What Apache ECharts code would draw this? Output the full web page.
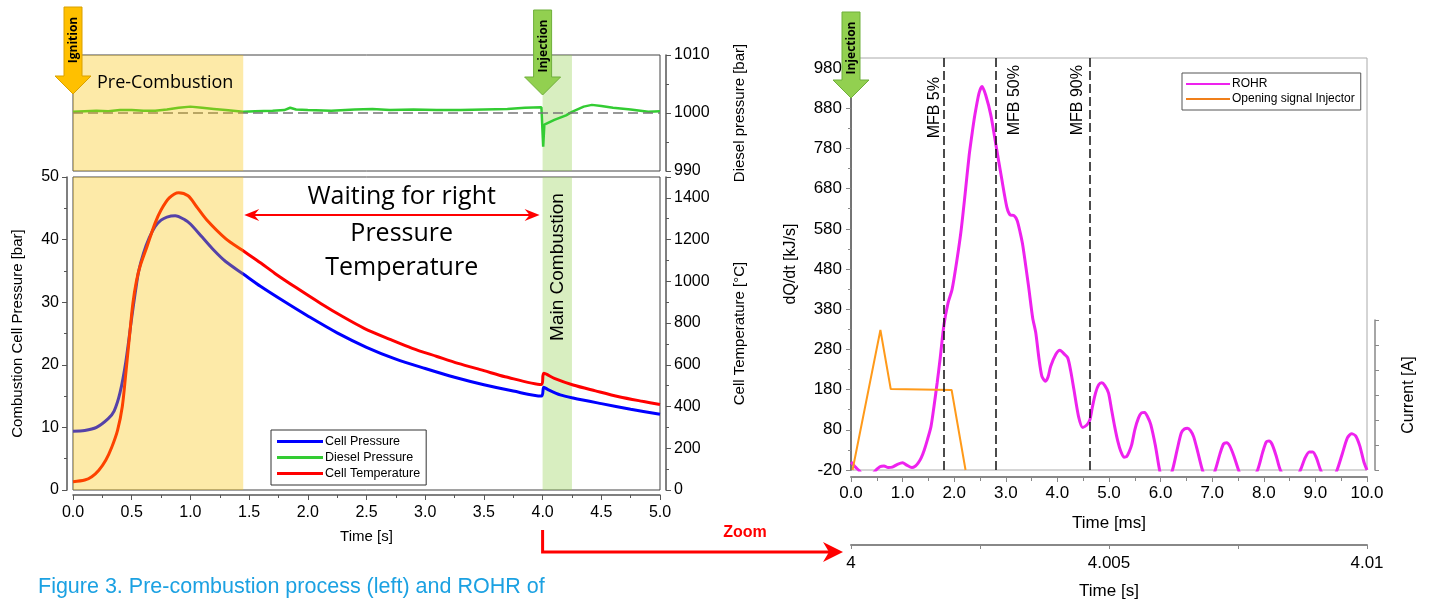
<!DOCTYPE html>
<html>
<head>
<meta charset="utf-8">
<script src="https://cdn.jsdelivr.net/npm/echarts@6/dist/echarts.min.js"></script>
<style>
  html, body { margin: 0; padding: 0; background: #fff; }
  #main { width: 1429px; height: 603px; }
</style>
</head>
<body>
<div id="main"></div>
<script>
// left chart: time [s]
var pTime  = [0, 0.1, 0.2, 0.3, 0.35, 0.4, 0.45, 0.5, 0.53, 0.56, 0.6, 0.65, 0.7, 0.75, 0.8, 0.87, 0.95, 1.0, 1.1, 1.2, 1.3, 1.45, 1.6, 1.8, 2.0, 2.25, 2.5, 2.75, 3.0, 3.25, 3.5, 3.75, 3.99, 4.01, 4.05, 4.15, 4.26, 4.5, 4.75, 5.0];
var cellPressure = [9.4, 9.5, 10.0, 11.4, 12.6, 15.5, 20.5, 27.5, 31.5, 35, 37.8, 40.3, 42.1, 43.1, 43.6, 43.8, 43.2, 42.5, 40.4, 38.3, 36.5, 34.5, 32.5, 30.1, 27.8, 25.1, 22.8, 20.9, 19.4, 18.0, 16.8, 15.8, 15.0, 16.4, 16.0, 15.2, 14.7, 13.8, 12.9, 12.1];

var tTime = [0, 0.1, 0.16, 0.22, 0.28, 0.33, 0.38, 0.42, 0.45, 0.48, 0.51, 0.54, 0.57, 0.63, 0.7, 0.75, 0.82, 0.9, 0.98, 1.05, 1.14, 1.3, 1.44, 1.6, 1.72, 1.9, 2.11, 2.3, 2.48, 2.7, 2.89, 3.1, 3.28, 3.5, 3.68, 3.99, 4.01, 4.1, 4.26, 4.45, 4.65, 4.85, 5.0];
var cellTemp = [40, 48, 64, 95, 144, 205, 287, 400, 560, 730, 894, 1000, 1070, 1166, 1280, 1342, 1400, 1425, 1410, 1360, 1294, 1205, 1150, 1088, 1038, 970, 894, 830, 775, 722, 679, 640, 607, 572, 543, 505, 559, 535, 503, 475, 447, 425, 410];

var dTime = [0, 0.1, 0.2, 0.3, 0.4, 0.5, 0.6, 0.7, 0.8, 0.9, 1.0, 1.1, 1.2, 1.3, 1.45, 1.55, 1.7, 1.8, 1.85, 1.9, 2.0, 2.2, 2.4, 2.55, 2.7, 2.9, 3.1, 3.3, 3.5, 3.7, 3.85, 3.99, 4.0, 4.005, 4.015, 4.03, 4.1, 4.2, 4.25, 4.35, 4.42, 4.5, 4.6, 4.75, 4.9, 5.0];
var dieselPressure = [1000.2, 1000.3, 1000.4, 1000.3, 1000.5, 1000.5, 1000.4, 1000.4, 1000.6, 1000.9, 1001.1, 1000.9, 1000.7, 1000.5, 1000.2, 1000.3, 1000.4, 1000.5, 1000.9, 1000.6, 1000.5, 1000.4, 1000.6, 1000.7, 1000.5, 1000.6, 1000.5, 1000.5, 1000.6, 1000.7, 1000.9, 1001.0, 1000.8, 994.2, 998.0, 998.3, 998.8, 999.6, 1000.2, 1001.1, 1001.4, 1001.2, 1000.9, 1000.6, 1000.2, 1000.3];

var preCombustion = [0, 1.45];
var mainCombustion = [4.0, 4.25];

// right chart: time [ms]
var rTime = [0, 0.08, 0.16, 0.25, 0.35, 0.45, 0.56, 0.64, 0.72, 0.8, 0.9, 1.0, 1.08, 1.18, 1.25, 1.3, 1.36, 1.42, 1.48, 1.55, 1.61, 1.67, 1.73, 1.8, 1.88, 1.96, 2.05, 2.13, 2.21, 2.29, 2.35, 2.4, 2.48, 2.54, 2.61, 2.71, 2.81, 2.92, 3.02, 3.08, 3.16, 3.22, 3.28, 3.33, 3.44, 3.52, 3.58, 3.64, 3.7, 3.77, 3.82, 3.87, 3.97, 4.05, 4.12, 4.2, 4.26, 4.32, 4.41, 4.49, 4.57, 4.63, 4.68, 4.74, 4.8, 4.86, 4.92, 4.99, 5.05, 5.11, 5.17, 5.23, 5.29, 5.34, 5.39, 5.44, 5.5, 5.57, 5.63, 5.69, 5.75, 5.81, 5.9, 5.98, 6.05, 6.12, 6.23, 6.32, 6.4, 6.46, 6.52, 6.58, 6.64, 6.72, 6.81, 6.9, 6.98, 7.06, 7.15, 7.22, 7.28, 7.34, 7.42, 7.51, 7.6, 7.75, 7.88, 7.98, 8.05, 8.1, 8.16, 8.24, 8.32, 8.45, 8.6, 8.71, 8.8, 8.88, 8.95, 9.02, 9.1, 9.2, 9.32, 9.42, 9.52, 9.62, 9.7, 9.78, 9.86, 9.94, 10.0];
var rohr = [0, -12, -22, -38, -42, -25, -12, -10, -14, -13, -6, -2, -8, -14, -10, -3, 10, 30, 55, 88, 140, 197, 260, 340, 395, 430, 500, 572, 665, 763, 820, 863, 917, 934, 913, 863, 788, 705, 634, 615, 613, 601, 570, 538, 438, 359, 322, 260, 213, 201, 212, 238, 268, 278, 270, 259, 225, 180, 113, 86, 92, 105, 138, 172, 192, 197, 190, 172, 130, 88, 52, 26, 12, 13, 25, 43, 80, 109, 122, 123, 112, 93, 40, -20, -50, -55, -20, 30, 72, 82, 84, 78, 63, 25, -20, -45, -45, -20, 20, 45, 48, 40, 15, -20, -45, -45, -20, 25, 50, 52, 44, 15, -20, -45, -45, -20, 10, 25, 25, 10, -20, -45, -45, -20, 20, 60, 70, 65, 40, 0, -20];

var injTime = [0.03, 0.57, 0.77, 1.95, 2.22];
var injCurrent = [0, 5.6, 3.24, 3.2, 0];

var mfbTime = [1.8, 2.81, 4.63];
var mfbNames = ['MFB 5%', 'MFB 50%', 'MFB 90%'];

var zoomTicks = [4, 4.005, 4.01];

function pairs(xs, ys) {
    return xs.map(function (x, i) { return [x, ys[i]]; });
}

var FONT = "'Liberation Sans', Arial, sans-serif";
var axisGray = '#555';

function plain(v) { return String(v); }

function tickAxis(extra) {
    var base = {
        axisLine: { show: true, onZero: false, lineStyle: { color: axisGray, width: 1.5 } },
        axisTick: { show: true, length: 5, lineStyle: { color: axisGray } },
        minorTick: { show: true, splitNumber: 2, length: 3, lineStyle: { color: axisGray } },
        axisLabel: { color: '#000', fontFamily: FONT, fontSize: 16, formatter: plain },
        splitLine: { show: false },
        nameTextStyle: { color: '#000', fontFamily: FONT, fontSize: 15 }
    };
    return Object.assign(base, extra);
}

// label placement of MFB lines (left / right of the dashed line)
var mfbSide = ['insideEndTop', 'insideEndBottom', 'insideEndTop'];
var mfbGap = [[19, 1], [7, 11], [7, 4]];

var mfbLines = mfbTime.map(function (t, i) {
    return {
        xAxis: t,
        label: {
            show: true,
            formatter: mfbNames[i],
            position: mfbSide[i],
            distance: mfbGap[i],
            color: '#000',
            fontFamily: FONT,
            fontSize: 16
        }
    };
});

var chart = echarts.init(document.getElementById('main'));

var option = {
    animation: false,
    backgroundColor: '#fff',
    grid: [
        { left: 73, top: 55, width: 587, height: 116, show: true, borderColor: '#444', borderWidth: 1, backgroundColor: 'transparent' },
        { left: 73, top: 177, width: 587, height: 313, show: true, borderColor: '#444', borderWidth: 1, backgroundColor: 'transparent' },
        { left: 851, top: 58, width: 516, height: 412, show: true, borderColor: '#aaa', borderWidth: 1, backgroundColor: 'transparent' },
        { left: 851, top: 320, width: 516, height: 150 },
        { left: 851, top: 544, width: 516, height: 1 }
    ],
    legend: [
        {
            data: ['Cell Pressure', 'Diesel Pressure', 'Cell Temperature'],
            left: 271, top: 430, orient: 'vertical',
            icon: 'rect', itemWidth: 46, itemHeight: 3, itemGap: 3,
            padding: [5, 6, 5, 6],
            borderColor: '#333', borderWidth: 1,
            textStyle: { color: '#000', fontFamily: FONT, fontSize: 12.5, padding: [0, 0, 0, -3] }
        },
        {
            data: ['ROHR', 'Opening signal Injector'],
            left: 1182, top: 73, orient: 'vertical',
            icon: 'rect', itemWidth: 44, itemHeight: 2, itemGap: 3,
            padding: [5, 6, 5, 4],
            borderColor: '#555', borderWidth: 1,
            textStyle: { color: '#000', fontFamily: FONT, fontSize: 12, padding: [0, 0, 0, -3] }
        }
    ],
    xAxis: [
        { gridIndex: 0, type: 'value', min: 0, max: 5, show: false },
        tickAxis({
            gridIndex: 1, type: 'value', min: 0, max: 5, interval: 0.5, offset: 5,
            name: 'Time [s]', nameLocation: 'middle', nameGap: 34,
            axisLabel: { color: '#000', fontFamily: FONT, fontSize: 16, margin: 10, formatter: function (v) { return v.toFixed(1); } }
        }),
        tickAxis({
            gridIndex: 2, type: 'value', min: 0, max: 10, interval: 1, offset: 7,
            name: 'Time [ms]', nameLocation: 'middle', nameGap: 38,
            axisLine: { show: true, onZero: false, lineStyle: { color: '#888', width: 2 } },
            axisTick: { show: true, length: 5, lineStyle: { color: '#888' } },
            minorTick: { show: true, splitNumber: 2, length: 4, lineStyle: { color: '#888' } },
            axisLabel: { color: '#000', fontFamily: FONT, fontSize: 17, margin: 8, formatter: function (v) { return v.toFixed(1); } },
            nameTextStyle: { color: '#000', fontFamily: FONT, fontSize: 17 }
        }),
        { gridIndex: 3, type: 'value', min: 0, max: 10, show: false },
        tickAxis({
            gridIndex: 4, type: 'value', min: 4, max: 4.01, interval: 0.0025,
            name: 'Time [s]', nameLocation: 'middle', nameGap: 38,
            axisLine: { show: true, onZero: false, lineStyle: { color: '#888', width: 2 } },
            axisTick: { show: true, length: 4, lineStyle: { color: '#888' } },
            minorTick: { show: false },
            axisLabel: {
                color: '#000', fontFamily: FONT, fontSize: 17, margin: 10,
                formatter: function (v) {
                    var hit = zoomTicks.filter(function (z) { return Math.abs(z - v) < 1e-7; });
                    return hit.length ? String(hit[0]) : '';
                }
            },
            nameTextStyle: { color: '#000', fontFamily: FONT, fontSize: 17 }
        })
    ],
    yAxis: [
        tickAxis({
            gridIndex: 0, type: 'value', position: 'right', min: 990, max: 1010, interval: 10, offset: 6,
            name: 'Diesel pressure [bar]', nameLocation: 'middle', nameGap: 66, nameRotate: 90
        }),
        tickAxis({
            gridIndex: 1, type: 'value', position: 'left', min: 0, max: 50, interval: 10, offset: 6,
            name: 'Combustion Cell Pressure [bar]', nameLocation: 'middle', nameGap: 42, nameRotate: 90
        }),
        tickAxis({
            gridIndex: 1, type: 'value', position: 'right', min: 0, max: 1500, interval: 200, offset: 6,
            name: 'Cell Temperature [°C]', nameLocation: 'middle', nameGap: 66, nameRotate: 90,
            axisLabel: { color: '#000', fontFamily: FONT, fontSize: 16, showMaxLabel: false, formatter: plain }
        }),
        tickAxis({
            gridIndex: 2, type: 'value', min: -20, max: 1005, interval: 100,
            name: 'dQ/dt [kJ/s]', nameLocation: 'middle', nameGap: 52, nameRotate: 90,
            axisLine: { show: true, onZero: false, lineStyle: { color: '#555', width: 1.5 } },
            axisTick: { show: true, length: 5, lineStyle: { color: '#888' } },
            minorTick: { show: true, splitNumber: 2, length: 3, lineStyle: { color: '#888' } },
            axisLabel: { color: '#000', fontFamily: FONT, fontSize: 17, margin: 9, showMaxLabel: false, formatter: plain },
            nameTextStyle: { color: '#000', fontFamily: FONT, fontSize: 16 }
        }),
        tickAxis({
            gridIndex: 3, type: 'value', position: 'right', min: 0, max: 6, interval: 1, offset: 8,
            name: 'Current [A]', nameLocation: 'middle', nameGap: 26, nameRotate: 90,
            axisLine: { show: true, onZero: false, lineStyle: { color: '#888', width: 1.5 } },
            axisTick: { show: true, length: 4, lineStyle: { color: '#888' } },
            minorTick: { show: false },
            axisLabel: { show: false },
            nameTextStyle: { color: '#000', fontFamily: FONT, fontSize: 16 }
        }),
        { gridIndex: 4, type: 'value', show: false }
    ],
    series: [
        {
            name: 'bandTop', type: 'line', xAxisIndex: 0, yAxisIndex: 0, data: [], silent: true,
            markArea: { silent: true, z: 1, itemStyle: { color: 'rgba(146,208,80,0.36)' },
                data: [[{ xAxis: mainCombustion[0] }, { xAxis: mainCombustion[1] }]] }
        },
        {
            name: 'Diesel Pressure', type: 'line', xAxisIndex: 0, yAxisIndex: 0,
            data: pairs(dTime, dieselPressure), symbol: 'none',
            lineStyle: { color: '#33CC33', width: 2.5 }, itemStyle: { color: '#33CC33' },
            markLine: { silent: true, symbol: 'none', label: { show: false },
                lineStyle: { color: '#777', type: [10, 5], width: 1.5 },
                data: [{ yAxis: 1000 }] },
            markArea: { silent: true, z: 10, itemStyle: { color: 'rgba(250,192,0,0.34)' },
                data: [[{ xAxis: preCombustion[0] }, { xAxis: preCombustion[1] }]] }
        },
        {
            name: 'Cell Pressure', type: 'line', xAxisIndex: 1, yAxisIndex: 1,
            data: pairs(pTime, cellPressure), symbol: 'none', smooth: 0.3,
            lineStyle: { color: '#0000FF', width: 3 }, itemStyle: { color: '#0000FF' },
            markArea: { silent: true, z: 1, itemStyle: { color: 'rgba(146,208,80,0.36)' },
                data: [[{ xAxis: mainCombustion[0] }, { xAxis: mainCombustion[1] }]] }
        },
        {
            name: 'Cell Temperature', type: 'line', xAxisIndex: 1, yAxisIndex: 2,
            data: pairs(tTime, cellTemp), symbol: 'none', smooth: 0.3,
            lineStyle: { color: '#FF0000', width: 3 }, itemStyle: { color: '#FF0000' },
            markArea: { silent: true, z: 10, itemStyle: { color: 'rgba(250,192,0,0.34)' },
                data: [[{ xAxis: preCombustion[0] }, { xAxis: preCombustion[1] }]] }
        },
        {
            name: 'ROHR', type: 'line', xAxisIndex: 2, yAxisIndex: 3,
            data: pairs(rTime, rohr), symbol: 'none', smooth: 0.25,
            lineStyle: { color: '#EE22EE', width: 3 }, itemStyle: { color: '#EE22EE' },
            markLine: { silent: true, symbol: 'none',
                lineStyle: { color: '#111', type: [9, 4], width: 1.5 },
                data: mfbLines }
        },
        {
            name: 'Opening signal Injector', type: 'line', xAxisIndex: 3, yAxisIndex: 4,
            data: pairs(injTime, injCurrent), symbol: 'none',
            lineStyle: { color: '#FF9A1A', width: 2 }, itemStyle: { color: '#F07F1A' }
        }
    ]
};

chart.setOption(option);

// annotations placed from the axes
function xpx(axis, v) { return chart.convertToPixel({ xAxisIndex: axis }, v); }

function downArrow(cx, tipY, top, fill, stroke, label, labelY) {
    return [
        {
            type: 'polygon', z: 100,
            shape: { points: [[cx - 9, top], [cx + 9, top], [cx + 9, tipY - 18], [cx + 18, tipY - 18], [cx, tipY], [cx - 18, tipY - 18], [cx - 9, tipY - 18]] },
            style: { fill: fill, stroke: stroke, lineWidth: 1 }
        },
        {
            type: 'text', z: 101, x: cx + 1, y: labelY, rotation: Math.PI / 2,
            style: { text: label, font: "bold 12px 'Open Sans', sans-serif", fill: '#000', align: 'center', verticalAlign: 'middle' }
        }
    ];
}

var x0 = xpx(1, 0), x4 = xpx(1, 4.0), xMid = xpx(1, 2.8), xMain = xpx(1, 4.13);
var xPre = xpx(1, preCombustion[1]);
var r0 = xpx(2, 0);

var graphics = []
    .concat(downArrow(x0, 94, 7, '#FFC000', '#D9A000', 'Ignition', 40))
    .concat(downArrow(x4, 95, 10, '#92D050', '#6FAF3A', 'Injection', 46))
    .concat(downArrow(r0, 98, 12, '#92D050', '#6FAF3A', 'Injection', 48));

var bigFont = "25px 'Open Sans', sans-serif";
graphics.push(
    { type: 'text', z: 101, x: 97, y: 83, style: { text: 'Pre-Combustion', font: "18px 'Open Sans', sans-serif", fill: '#000', verticalAlign: 'middle' } },
    { type: 'text', z: 101, x: xMid, y: 197, style: { text: 'Waiting for right', font: bigFont, fill: '#000', align: 'center', verticalAlign: 'middle' } },
    { type: 'text', z: 101, x: xMid, y: 234, style: { text: 'Pressure', font: bigFont, fill: '#000', align: 'center', verticalAlign: 'middle' } },
    { type: 'text', z: 101, x: xMid, y: 268, style: { text: 'Temperature', font: bigFont, fill: '#000', align: 'center', verticalAlign: 'middle' } },
    { type: 'text', z: 101, x: xMain, y: 267, rotation: Math.PI / 2, style: { text: 'Main Combustion', font: "19px 'Liberation Sans', Arial, sans-serif", fill: '#000', align: 'center', verticalAlign: 'middle' } },
    // double arrow
    { type: 'line', z: 101, shape: { x1: xPre + 8, y1: 215, x2: x4 - 8, y2: 215 }, style: { stroke: '#FF0000', lineWidth: 2 } },
    { type: 'polygon', z: 101, shape: { points: [[xPre + 1, 215], [xPre + 16, 209], [xPre + 11, 215], [xPre + 16, 221]] }, style: { fill: '#FF0000' } },
    { type: 'polygon', z: 101, shape: { points: [[x4 - 3, 215], [x4 - 18, 209], [x4 - 13, 215], [x4 - 18, 221]] }, style: { fill: '#FF0000' } },
    // zoom arrow
    { type: 'polyline', z: 101, shape: { points: [[x4, 530], [x4, 552], [r0 - 20, 552]] }, style: { stroke: '#FF0000', lineWidth: 3, fill: null } },
    { type: 'polygon', z: 101, shape: { points: [[r0 - 8, 552], [r0 - 28, 542], [r0 - 22, 552], [r0 - 28, 562]] }, style: { fill: '#FF0000' } },
    { type: 'text', z: 101, x: 745, y: 533, style: { text: 'Zoom', font: "bold 16px 'Liberation Sans', Arial, sans-serif", fill: '#FF0000', align: 'center', verticalAlign: 'middle' } },
    // caption
    { type: 'text', z: 101, x: 38, y: 587, style: { text: 'Figure 3. Pre-combustion process (left) and ROHR of', font: "21.5px 'Liberation Sans', Arial, sans-serif", fill: '#1BA1E2', verticalAlign: 'middle' } }
);

chart.setOption({ graphic: graphics });
</script>
</body>
</html>
